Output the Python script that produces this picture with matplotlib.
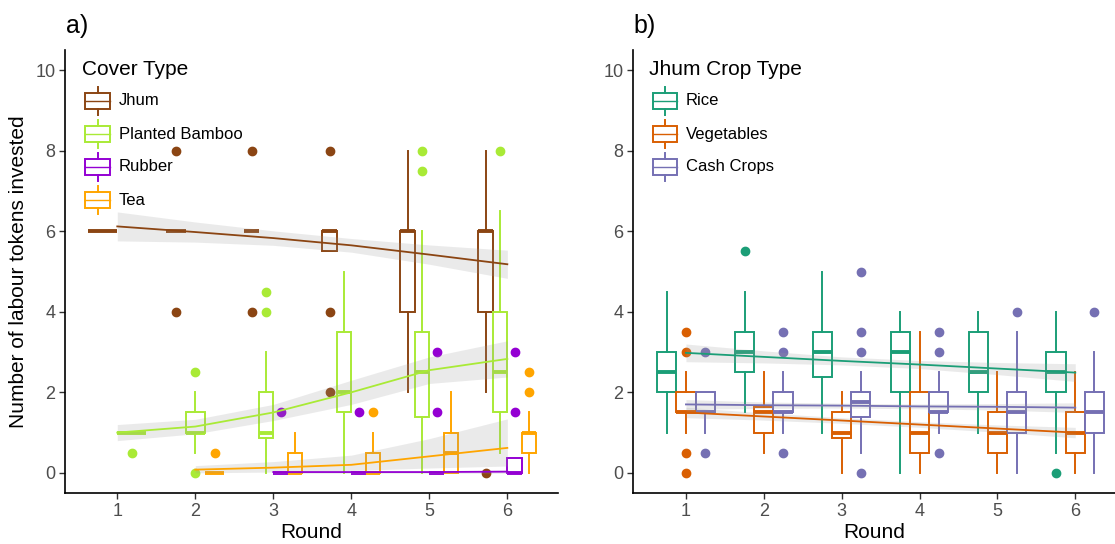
import matplotlib
matplotlib.use("Agg")
import matplotlib.pyplot as plt
from matplotlib.patches import Rectangle
from matplotlib.lines import Line2D

plt.rcParams['font.family'] = ['Liberation Sans', 'DejaVu Sans']

rounds = [1, 2, 3, 4, 5, 6]

# ---- panel a: cover type ----
cover_types = ["Jhum", "Planted Bamboo", "Rubber", "Tea"]
cover_colours = ["#8B4513", "#A9EA36", "#9400D3", "#FFA500"]

# (lower whisker, q1, median, q3, upper whisker) per round, None = not present
jhum_boxes = [(6, 6, 6, 6, 6), (6, 6, 6, 6, 6), (6, 6, 6, 6, 6),
              (5.5, 5.5, 6, 6, 6), (2, 4, 6, 6, 8), (2, 4, 6, 6, 8)]
jhum_outliers = [[], [8, 4], [8, 4], [8, 4, 2], [], [0]]
bamboo_boxes = [(1, 1, 1, 1, 1), (0.5, 1, 1, 1.5, 2), (0, 0.875, 1, 2, 3),
                (0, 1.5, 2, 3.5, 5), (0, 1.375, 2.5, 3.5, 6), (0.5, 1.5, 2.5, 4, 6.5)]
bamboo_outliers = [[0.5], [2.5, 0], [4.5, 4], [], [8, 7.5], [8]]
rubber_boxes = [None, None, (0, 0, 0, 0, 0), (0, 0, 0, 0, 0),
                (0, 0, 0, 0, 0), (0, 0, 0, 0.375, 0.375)]
rubber_outliers = [[], [], [1.5], [1.5], [3, 1.5], [3, 1.5]]
tea_boxes = [None, (0, 0, 0, 0, 0), (0, 0, 0, 0.5, 1), (0, 0, 0, 0.5, 1),
             (0, 0, 0.5, 1, 2), (0, 0.5, 1, 1, 1.5)]
tea_outliers = [[], [0.5], [], [1.5], [], [2.5, 2]]

# smoothed trend and its confidence band, read at each round
jhum_fit = [6.12, 5.98, 5.83, 5.65, 5.42, 5.18]
jhum_lo = [5.76, 5.73, 5.65, 5.48, 5.18, 4.83]
jhum_hi = [6.48, 6.23, 6.01, 5.82, 5.66, 5.53]
bamboo_fit = [1.0, 1.15, 1.5, 2.0, 2.55, 2.83]
bamboo_lo = [0.8, 0.97, 1.3, 1.7, 2.22, 2.38]
bamboo_hi = [1.2, 1.33, 1.7, 2.3, 2.88, 3.28]
rubber_fit = [None, None, 0.02, 0.02, 0.02, 0.03]
rubber_lo = [None, None, -0.01, -0.01, -0.01, -0.01]
rubber_hi = [None, None, 0.05, 0.05, 0.05, 0.07]
tea_fit = [None, 0.08, 0.13, 0.2, 0.41, 0.62]
tea_lo = [None, 0.0, 0.02, 0.06, 0.12, 0.17]
tea_hi = [None, 0.18, 0.28, 0.44, 0.85, 1.34]

# ---- panel b: jhum crop type ----
crop_types = ["Rice", "Vegetables", "Cash Crops"]
crop_colours = ["#1B9E77", "#D95F02", "#7570B3"]

rice_boxes = [(1, 2, 2.5, 3, 4.5), (1.5, 2.5, 3, 3.5, 4.5), (1, 2.375, 3, 3.5, 5),
              (0, 2, 3, 3.5, 4), (1, 2, 2.5, 3.5, 4), (0.5, 2, 2.5, 3, 4)]
rice_outliers = [[], [5.5], [], [], [], [0]]
veg_boxes = [(1, 1.5, 1.5, 2, 2.5), (0.5, 1, 1.5, 1.625, 2.5), (0, 0.875, 1, 1.5, 2),
             (0, 0.5, 1, 2, 3.5), (0, 0.5, 1, 1.5, 2.5), (0, 0.5, 1, 1.5, 2.5)]
veg_outliers = [[3.5, 3, 0.5, 0], [], [], [], [], []]
cash_boxes = [(1, 1.5, 1.5, 2, 2), (1, 1.5, 1.5, 2, 2.5), (0.5, 1.375, 1.75, 2, 2.5),
              (1, 1.5, 1.5, 2, 2.5), (0, 1, 1.5, 2, 3.5), (0, 1, 1.5, 2, 3)]
cash_outliers = [[3, 0.5], [3.5, 3, 0.5], [5, 3.5, 3, 0], [3.5, 3, 0.5], [4], [4]]

rice_fit = [2.98, 2.88, 2.78, 2.69, 2.59, 2.49]
rice_lo = [2.76, 2.73, 2.68, 2.59, 2.44, 2.27]
rice_hi = [3.2, 3.03, 2.88, 2.79, 2.74, 2.71]
veg_fit = [1.5, 1.4, 1.3, 1.2, 1.1, 1.0]
veg_lo = [1.37, 1.31, 1.23, 1.13, 1.01, 0.87]
veg_hi = [1.63, 1.49, 1.37, 1.27, 1.19, 1.13]
cash_fit = [1.7, 1.68, 1.67, 1.65, 1.64, 1.62]
cash_lo = [1.58, 1.6, 1.61, 1.59, 1.56, 1.5]
cash_hi = [1.82, 1.76, 1.73, 1.71, 1.72, 1.74]

DODGE = 0.74
TEXT_GREY = "#4D4D4D"


def dodge_positions(all_boxes):
    """
    Work out the x position and width of every box, splitting the dodge width
    between the groups that are present in each round.
    """
    positions = [[None] * len(rounds) for _ in all_boxes]
    widths = [[None] * len(rounds) for _ in all_boxes]
    for r, rnd in enumerate(rounds):
        present = [g for g in range(len(all_boxes)) if all_boxes[g][r] is not None]
        w = DODGE / len(present)
        for i, g in enumerate(present):
            positions[g][r] = rnd - DODGE / 2 + w * (i + 0.5)
            widths[g][r] = w
    return positions, widths


def plot_boxes(ax, all_boxes, all_outliers, colours):
    positions, widths = dodge_positions(all_boxes)
    for g, boxes in enumerate(all_boxes):
        stats = list()
        pos = list()
        wid = list()
        for r, box in enumerate(boxes):
            if box is None:
                continue
            lo, q1, med, q3, hi = box
            stats.append({"whislo": lo, "q1": q1, "med": med, "q3": q3,
                          "whishi": hi, "fliers": all_outliers[g][r]})
            pos.append(positions[g][r])
            wid.append(widths[g][r])
        c = colours[g]
        ax.bxp(stats, positions=pos, widths=wid, showcaps=False, patch_artist=True,
               boxprops=dict(facecolor="white", edgecolor=c, linewidth=1.4),
               whiskerprops=dict(color=c, linewidth=1.4),
               medianprops=dict(color=c, linewidth=2.8, solid_capstyle="butt"),
               flierprops=dict(marker="o", markerfacecolor=c, markeredgecolor=c,
                               markersize=6, linestyle="none"),
               manage_ticks=False, zorder=2)


def plot_smooth(ax, fit, lo, hi, colour):
    xs = [x for x, f in zip(rounds, fit) if f is not None]
    fs = [f for f in fit if f is not None]
    ls = [v for v in lo if v is not None]
    hs = [v for v in hi if v is not None]
    ax.fill_between(xs, ls, hs, color="#999999", alpha=0.2, linewidth=0, zorder=3)
    ax.plot(xs, fs, color=colour, linewidth=1.3, zorder=4)


def draw_legend(ax, title, labels, colours):
    """
    Hand drawn legend with little boxplot keys, like ggplot does it.
    """
    t = ax.transAxes
    ax.text(0.034, 0.957, title, transform=t, fontsize=15, va="center", ha="left")
    ys = [0.885, 0.810, 0.736, 0.661]
    for label, c, y in zip(labels, colours, ys):
        ax.add_patch(Rectangle((0.041, y - 0.018), 0.05, 0.036, transform=t,
                               facecolor="white", edgecolor=c, linewidth=1.4,
                               clip_on=False, zorder=5))
        ax.add_line(Line2D([0.041, 0.091], [y, y], transform=t, color=c,
                           linewidth=1.0, clip_on=False, zorder=6))
        ax.add_line(Line2D([0.066, 0.066], [y + 0.018, y + 0.032], transform=t,
                           color=c, linewidth=1.4, clip_on=False, zorder=6))
        ax.add_line(Line2D([0.066, 0.066], [y - 0.018, y - 0.032], transform=t,
                           color=c, linewidth=1.4, clip_on=False, zorder=6))
        ax.text(0.109, y, label, transform=t, fontsize=12, va="center", ha="left")


def style_axes(ax, xlim):
    ax.set_xlim(*xlim)
    ax.set_ylim(-0.5, 10.5)
    ax.set_xticks(rounds)
    ax.set_yticks([0, 2, 4, 6, 8, 10])
    for side in ["top", "right"]:
        ax.spines[side].set_visible(False)
    for side in ["left", "bottom"]:
        ax.spines[side].set_linewidth(1.2)
        ax.spines[side].set_color("black")
    ax.tick_params(axis="both", length=4, width=1.0, color="#333333",
                   labelsize=13, labelcolor=TEXT_GREY, pad=3)
    ax.set_xlabel("Round", fontsize=15, labelpad=2)


fig = plt.figure(figsize=(11.15, 5.44), dpi=100)
ax_a = fig.add_axes([0.0583, 0.09375, 0.4422, 0.8143])
ax_b = fig.add_axes([0.5677, 0.09375, 0.4323, 0.8143])

plot_boxes(ax_a, [jhum_boxes, bamboo_boxes, rubber_boxes, tea_boxes],
           [jhum_outliers, bamboo_outliers, rubber_outliers, tea_outliers], cover_colours)
plot_smooth(ax_a, jhum_fit, jhum_lo, jhum_hi, cover_colours[0])
plot_smooth(ax_a, bamboo_fit, bamboo_lo, bamboo_hi, cover_colours[1])
plot_smooth(ax_a, rubber_fit, rubber_lo, rubber_hi, cover_colours[2])
plot_smooth(ax_a, tea_fit, tea_lo, tea_hi, cover_colours[3])
style_axes(ax_a, (0.33, 6.65))
ax_a.set_ylabel("Number of labour tokens invested", fontsize=15, labelpad=5)
draw_legend(ax_a, "Cover Type", cover_types, cover_colours)

plot_boxes(ax_b, [rice_boxes, veg_boxes, cash_boxes],
           [rice_outliers, veg_outliers, cash_outliers], crop_colours)
plot_smooth(ax_b, rice_fit, rice_lo, rice_hi, crop_colours[0])
plot_smooth(ax_b, veg_fit, veg_lo, veg_hi, crop_colours[1])
plot_smooth(ax_b, cash_fit, cash_lo, cash_hi, crop_colours[2])
style_axes(ax_b, (0.32, 6.51))
draw_legend(ax_b, "Jhum Crop Type", crop_types, crop_colours)

fig.text(66 / 1115, 1 - 26 / 544, "a)", fontsize=18, va="center", ha="left")
fig.text(633 / 1115, 1 - 26 / 544, "b)", fontsize=18, va="center", ha="left")

plt.savefig("out.png", dpi=100)
plt.close()
